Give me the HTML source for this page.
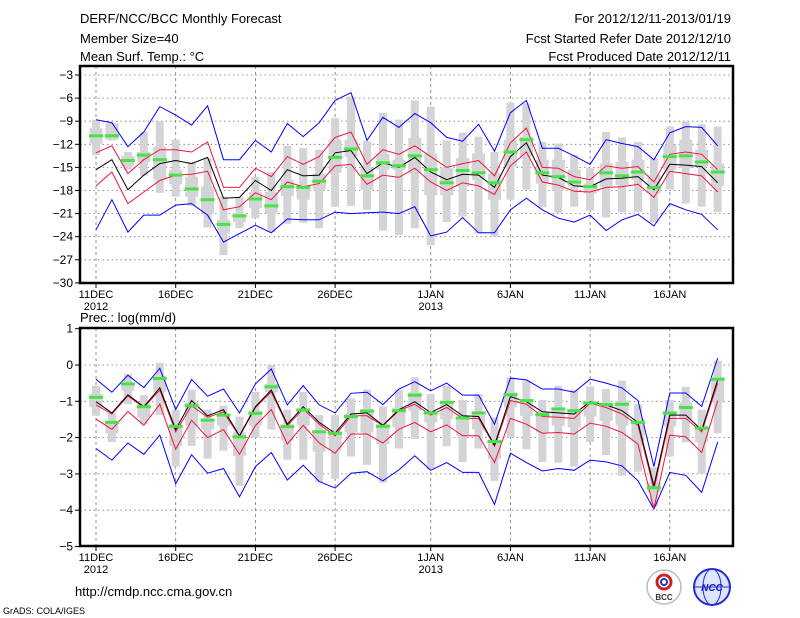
<!DOCTYPE html>
<html><head><meta charset="utf-8">
<style>
html,body{margin:0;padding:0;background:#fff;}
#wrap{position:relative;width:800px;height:618px;overflow:hidden;font-family:"Liberation Sans",sans-serif;}
svg text{font-family:"Liberation Sans",sans-serif;}
</style></head>
<body>
<div id="wrap">
<svg id="chart" width="800" height="618" viewBox="0 0 800 618" xmlns="http://www.w3.org/2000/svg">
  <text x="80" y="23" font-size="13">DERF/NCC/BCC Monthly Forecast</text>
  <text x="80" y="43" font-size="13">Member Size=40</text>
  <text x="80" y="61" font-size="13">Mean Surf. Temp.: °C</text>
  <text x="731" y="23" font-size="13" text-anchor="end">For 2012/12/11-2013/01/19</text>
  <text x="731" y="43" font-size="13" text-anchor="end">Fcst Started Refer Date 2012/12/10</text>
  <text x="731" y="61" font-size="13" text-anchor="end">Fcst Produced Date 2012/12/11</text>
  <text x="80" y="322" font-size="13">Prec.: log(mm/d)</text>
  <text x="75" y="596" font-size="13">http://cmdp.ncc.cma.gov.cn</text>
  <text x="3" y="614" font-size="9">GrADS: COLA/IGES</text>
  <g>
    <circle cx="664" cy="587" r="17" fill="#fff" stroke="#bbb" stroke-width="1.5"/>
    <circle cx="664" cy="582" r="7" fill="none" stroke="#d02020" stroke-width="3"/>
    <circle cx="664" cy="582" r="3" fill="none" stroke="#2040c0" stroke-width="2"/>
    <text x="664" y="600" font-size="8" font-weight="bold" text-anchor="middle" fill="#333">BCC</text>
  </g>
  <g>
    <circle cx="712" cy="587" r="18" fill="#dfe4ff" stroke="#2030d0" stroke-width="2"/>
    <ellipse cx="712" cy="587" rx="9" ry="18" fill="none" stroke="#2030d0" stroke-width="1"/>
    <line x1="694" y1="587" x2="730" y2="587" stroke="#2030d0" stroke-width="1"/>
    <text x="712" y="591" font-size="10" font-weight="bold" font-style="italic" text-anchor="middle" fill="#1020c0">NCC</text>
  </g>
  <g id="top"></g>
  <g id="bot"></g>
</svg>
</div>
<script>
// ---- Temperature panel data (°C) ----
const tBlueHi=[-8.8,-9.2,-12.3,-10.4,-7.1,-8.2,-9.5,-7.0,-14.0,-14.0,-11.5,-13.0,-9.3,-11.0,-9.2,-6.3,-5.3,-11.5,-8.5,-9.8,-8.0,-9.2,-11.1,-11.6,-9.4,-12.9,-7.9,-6.3,-12.5,-12.5,-13.5,-14.6,-11.4,-11.9,-12.3,-14.0,-10.5,-9.7,-9.8,-12.2];
const tRedHi=[-13.1,-12.2,-15.8,-14.0,-12.7,-12.7,-13.0,-11.7,-17.6,-17.6,-15.1,-16.2,-13.6,-14.6,-13.6,-11.1,-10.4,-14.6,-12.7,-13.3,-12.2,-13.6,-15.0,-14.5,-14.1,-16.1,-11.8,-9.9,-15.0,-15.1,-16.2,-16.6,-14.8,-15.1,-14.9,-16.9,-13.3,-13.0,-13.3,-15.3];
const tMean=[-15.3,-14.0,-17.9,-16.0,-14.5,-14.1,-14.5,-13.7,-19.0,-18.9,-16.7,-18.0,-15.3,-16.1,-16.0,-13.1,-12.8,-15.8,-14.4,-15.0,-13.7,-15.6,-16.6,-15.9,-16.0,-17.6,-13.6,-11.8,-16.0,-16.3,-17.4,-17.5,-16.5,-16.4,-16.2,-17.9,-14.6,-14.7,-14.9,-17.0];
const tRedLo=[-17.4,-15.6,-19.7,-18.2,-16.7,-16.0,-15.9,-15.5,-20.5,-20.1,-18.3,-19.2,-16.9,-17.5,-17.1,-14.8,-14.6,-17.2,-16.0,-16.3,-15.1,-16.9,-18.0,-17.0,-17.4,-18.5,-14.8,-13.0,-16.9,-17.3,-18.1,-18.2,-17.6,-17.5,-17.2,-18.9,-15.5,-15.8,-16.1,-18.2];
const tBlueLo=[-23.1,-19.2,-23.4,-21.2,-21.2,-19.9,-19.7,-21.2,-24.7,-23.6,-22.5,-23.5,-21.7,-21.8,-21.8,-20.8,-21.0,-20.9,-20.8,-21.0,-20.1,-23.9,-23.4,-21.5,-23.5,-23.5,-20.5,-19.0,-20.5,-21.6,-22.1,-21.2,-23.2,-21.8,-21.1,-22.6,-19.7,-20.5,-21.1,-23.1];
const tObs=[-10.9,-10.9,-14.1,-13.4,-14.0,-16.0,-17.8,-19.2,-22.4,-21.3,-19.1,-20.0,-17.5,-17.6,-16.8,-13.7,-12.6,-16.1,-14.4,-14.8,-13.5,-15.3,-17.0,-15.4,-15.7,-17.0,-13.0,-11.4,-15.7,-16.2,-16.9,-17.5,-15.7,-16.1,-15.6,-17.6,-13.6,-13.5,-14.3,-15.6];
const tMax=[-8.8,-9.2,-13.0,-10.4,-9.0,-11.4,-14.3,-13.8,-18.8,-18.8,-16.2,-15.6,-12.2,-12.5,-12.7,-8.6,-5.8,-11.6,-7.9,-8.8,-6.3,-7.1,-11.5,-10.5,-11.0,-13.0,-6.6,-6.7,-11.7,-11.9,-13.4,-15.1,-10.4,-11.1,-11.7,-13.8,-9.7,-9.0,-9.4,-9.7];
const tMin=[-13.4,-11.5,-15.3,-16.1,-18.3,-18.8,-20.0,-22.8,-26.4,-22.9,-21.6,-23.4,-22.3,-22.2,-22.9,-20.1,-20.0,-20.5,-23.2,-23.8,-22.9,-25.1,-22.1,-21.4,-23.6,-24.0,-19.2,-17.9,-20.2,-20.9,-20.1,-20.6,-21.5,-20.8,-20.8,-22.1,-17.9,-19.7,-20.1,-20.8];
const tQ3=[-9.9,-9.3,-13.5,-13.0,-12.3,-15.3,-16.2,-17.5,-21.8,-21.0,-18.2,-18.2,-16.6,-17.3,-15.8,-11.4,-11.4,-14.9,-13.2,-14.0,-11.2,-13.2,-15.1,-13.8,-13.2,-15.8,-11.4,-11.0,-14.0,-14.0,-15.3,-17.1,-14.5,-14.3,-14.0,-16.0,-12.1,-11.4,-12.7,-14.5];
const tQ1=[-11.9,-11.4,-14.8,-14.3,-16.6,-17.2,-18.8,-21.0,-23.6,-22.1,-20.3,-21.0,-18.7,-19.2,-17.9,-15.7,-13.6,-17.9,-15.3,-15.3,-15.8,-18.6,-18.6,-17.5,-16.6,-19.2,-14.9,-13.6,-17.1,-17.9,-17.5,-18.4,-17.5,-17.3,-16.6,-18.4,-15.3,-15.1,-14.9,-17.4];
const tTicks=[-3,-6,-9,-12,-15,-18,-21,-24,-27,-30];

// ---- Precipitation panel data (log mm/d) ----
const pBlueHi=[-0.39,-0.75,-0.28,-0.62,-0.09,-1.23,-0.40,-0.86,-0.66,-1.32,-0.52,-0.11,-1.10,-0.57,-1.10,-1.32,-0.78,-0.75,-1.09,-0.66,-0.46,-0.71,-0.50,-0.83,-0.83,-1.63,-0.36,-0.41,-0.66,-0.66,-0.75,-0.39,-0.50,-0.63,-0.98,-2.80,-0.77,-0.77,-1.14,0.19];
const pRedHi=[-1.10,-1.35,-0.85,-1.17,-0.69,-1.84,-1.12,-1.44,-1.29,-1.97,-1.17,-0.74,-1.67,-1.21,-1.63,-1.95,-1.40,-1.40,-1.67,-1.26,-1.08,-1.38,-1.17,-1.47,-1.47,-2.24,-0.98,-1.08,-1.42,-1.44,-1.47,-1.05,-1.17,-1.35,-1.66,-3.42,-1.47,-1.47,-1.84,-0.50];
const pMean=[-1.01,-1.32,-0.82,-1.15,-0.63,-1.78,-0.98,-1.40,-1.23,-1.95,-1.15,-0.69,-1.63,-1.15,-1.58,-1.88,-1.35,-1.32,-1.66,-1.23,-1.01,-1.31,-1.09,-1.40,-1.42,-2.21,-0.87,-1.01,-1.29,-1.32,-1.35,-1.01,-1.10,-1.26,-1.58,-3.33,-1.38,-1.38,-1.79,-0.41];
const pRedLo=[-1.49,-1.77,-1.28,-1.66,-1.08,-2.32,-1.52,-2.00,-1.78,-2.46,-1.67,-1.23,-2.18,-1.66,-2.15,-2.43,-1.90,-1.90,-2.15,-1.77,-1.58,-1.84,-1.65,-1.95,-1.95,-2.69,-1.47,-1.63,-1.88,-1.86,-1.90,-1.60,-1.69,-1.86,-2.18,-3.96,-1.93,-1.98,-2.41,-0.98];
const pBlueLo=[-2.30,-2.62,-2.15,-2.46,-1.93,-3.27,-2.47,-2.98,-2.85,-3.63,-2.80,-2.41,-3.17,-2.76,-3.21,-3.39,-2.98,-2.94,-3.19,-2.89,-2.50,-2.90,-2.69,-2.96,-2.96,-3.84,-2.43,-2.69,-2.92,-2.85,-2.90,-2.62,-2.67,-2.78,-3.19,-3.97,-2.96,-3.04,-3.51,-2.12];
const pObs=[-0.89,-1.58,-0.52,-1.15,-0.37,-1.69,-1.12,-1.52,-1.38,-1.98,-1.33,-0.60,-1.70,-1.24,-1.84,-1.88,-1.42,-1.27,-1.69,-1.26,-0.83,-1.32,-1.03,-1.46,-1.32,-2.11,-0.82,-0.98,-1.37,-1.21,-1.26,-1.05,-1.09,-1.08,-1.58,-3.38,-1.32,-1.17,-1.74,-0.39];
const pMax=[-0.57,-1.32,-0.25,-0.83,0.06,-1.23,-0.68,-1.23,-1.12,-1.42,-0.74,0.0,-1.23,-0.74,-1.38,-1.38,-0.92,-0.68,-1.14,-0.68,-0.34,-0.80,-0.57,-0.96,-0.80,-1.44,-0.34,-0.43,-0.96,-0.57,-0.68,-0.59,-0.66,-0.43,-1.08,-2.82,-0.96,-0.60,-1.23,0.12];
const pMin=[-1.40,-2.12,-1.08,-1.63,-1.38,-2.80,-2.23,-2.58,-2.36,-3.33,-2.00,-1.78,-2.61,-2.61,-3.22,-3.13,-2.52,-2.75,-3.24,-2.30,-2.04,-2.87,-2.24,-2.67,-2.30,-3.19,-2.00,-2.32,-2.67,-2.69,-2.80,-2.12,-2.48,-3.05,-2.94,-3.90,-2.52,-2.13,-2.99,-1.88];
const pQ3=[-0.80,-1.53,-0.48,-1.07,-0.30,-1.63,-1.03,-1.47,-1.35,-1.86,-1.26,-0.52,-1.63,-1.20,-1.81,-1.84,-1.35,-1.21,-1.63,-1.17,-0.75,-1.29,-1.03,-1.44,-1.30,-2.06,-0.75,-0.94,-1.29,-1.17,-1.21,-1.00,-1.05,-0.98,-1.49,-3.24,-1.29,-1.03,-1.67,-0.34];
const pQ1=[-1.17,-1.88,-0.71,-1.44,-0.75,-2.23,-1.67,-1.77,-1.67,-2.50,-1.67,-0.75,-2.09,-1.67,-2.39,-2.36,-1.86,-1.86,-2.18,-1.72,-1.26,-1.58,-1.49,-1.95,-1.77,-2.59,-1.17,-1.40,-1.86,-1.67,-1.72,-1.42,-1.54,-1.67,-2.09,-3.51,-1.69,-1.49,-2.13,-1.03];
const pTicks=[1,0,-1,-2,-3,-4,-5];

// ---- x axis ----
const xTickDays=[0,5,10,15,21,26,31,36];
const xTickLabels=['11DEC','16DEC','21DEC','26DEC','1JAN','6JAN','11JAN','16JAN'];
const xYearDays=[0,21];
const xYearLabels=['2012','2013'];

const NS='http://www.w3.org/2000/svg';
const X0=80,X1=733;
function xScale(i){return 96+i*15.94;}
function mk(tag,attrs,parent){const e=document.createElementNS(NS,tag);for(const k in attrs)e.setAttribute(k,attrs[k]);parent.appendChild(e);return e;}

function panel(g,cfg){
  const y=cfg.y;
  // grid
  cfg.ticks.forEach(function(t){
    const yy=y(t);
    if(yy>cfg.top+1&&yy<cfg.bot-1){
      const l=mk('line',{x1:X0,x2:X1,y1:yy,y2:yy,stroke:'#777','stroke-width':0.8,'stroke-dasharray':'1.5,3'},g);
      
      
    }
    const tk=mk('line',{x1:X0-5,x2:X0,y1:yy,y2:yy,stroke:'#000','stroke-width':1},g);
    
    
    const tx=mk('text',{x:X0-7,y:yy+4,'font-size':12,'text-anchor':'end'},g);
    tx.textContent=String(t).replace('-','\u2212');
    
    
  });
  xTickDays.forEach(function(d,k){
    const xx=xScale(d);
    const l=mk('line',{x1:xx,x2:xx,y1:cfg.top,y2:cfg.bot,stroke:'#777','stroke-width':0.8,'stroke-dasharray':'3,3'},g);
    
    
    const tk=mk('line',{x1:xx,x2:xx,y1:cfg.bot,y2:cfg.bot+5,stroke:'#000','stroke-width':1},g);
    
    
    const tx=mk('text',{x:xx,y:cfg.bot+15,'font-size':11,'text-anchor':'middle'},g);
    tx.textContent=xTickLabels[k];
    
    
  });
  xYearDays.forEach(function(d,k){
    const tx=mk('text',{x:xScale(d),y:cfg.bot+27,'font-size':11,'text-anchor':'middle'},g);
    tx.textContent=xYearLabels[k];
    
    
  });
  // boxes
  for(let i=0;i<cfg.max.length;i++){
    const xx=xScale(i);
    const w=mk('rect',{x:xx-4,y:y(cfg.max[i]),width:8,height:Math.max(1,y(cfg.min[i])-y(cfg.max[i])),fill:'#d4d4d8'},g);
    
    
    const b=mk('rect',{x:xx-6.5,y:y(cfg.q3[i]),width:13,height:Math.max(1,y(cfg.q1[i])-y(cfg.q3[i])),fill:'#d4d4d8'},g);
    
    
  }
  // lines
  const series=[[cfg.blueLo,'#0000ff','lower-bound-line'],[cfg.blueHi,'#0000ff','upper-bound-line'],[cfg.redLo,'#f0143c','lower-spread-line'],[cfg.redHi,'#f0143c','upper-spread-line'],[cfg.mean,'#000','ensemble-mean-line']];
  series.forEach(function(s){
    const pts=s[0].map(function(v,i){return xScale(i).toFixed(1)+','+y(v).toFixed(1);}).join(' ');
    const pl=mk('polyline',{points:pts,fill:'none',stroke:s[1],'stroke-width':1},g);
    
    
  });
  // observations
  cfg.obs.forEach(function(v,i){
    const r=mk('rect',{x:xScale(i)-7,y:y(v)-1.5,width:14,height:3,fill:'#44e444'},g);
    
    
  });
  const fr=mk('rect',{x:X0,y:cfg.top,width:X1-X0,height:cfg.bot-cfg.top,fill:'none',stroke:'#000','stroke-width':2.5},g);
  
  
}

panel(document.getElementById('top'),{
  y:function(v){return 75+(-3-v)*7.7;},top:66,bot:283,ticks:tTicks,
  max:tMax,min:tMin,q3:tQ3,q1:tQ1,blueHi:tBlueHi,redHi:tRedHi,mean:tMean,redLo:tRedLo,blueLo:tBlueLo,obs:tObs
});
panel(document.getElementById('bot'),{
  y:function(v){return 365-v*36.3;},top:328,bot:546,ticks:pTicks,
  max:pMax,min:pMin,q3:pQ3,q1:pQ1,blueHi:pBlueHi,redHi:pRedHi,mean:pMean,redLo:pRedLo,blueLo:pBlueLo,obs:pObs
});
</script>
</body></html>
